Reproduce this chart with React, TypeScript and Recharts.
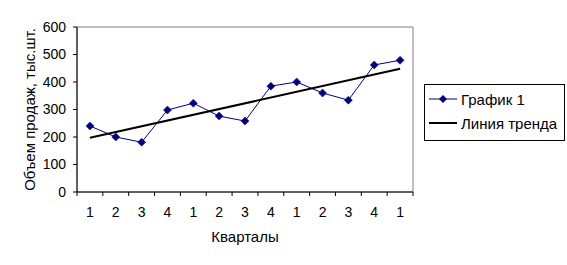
import { Legend, Line, LineChart, ReferenceArea, XAxis, YAxis } from "recharts";

const FONT = "'Liberation Sans', Arial, sans-serif";
const NAVY = "#000080";

// quarters, four per year, the last year only has Q1
const QUARTERS = ["1", "2", "3", "4", "1", "2", "3", "4", "1", "2", "3", "4", "1"];
const SALES = [240, 200, 181, 298, 323, 276, 258, 385, 400, 360, 334, 462, 479];
const TREND = [197, null, null, null, null, null, null, null, null, null, null, null, 448];
const Y_TICKS = [0, 100, 200, 300, 400, 500, 600];
// category boundaries (tick marks) and category centres (labels)
const X_TICKS = QUARTERS.flatMap((_, i) => [i, i + 0.5]).concat(QUARTERS.length);

const rows = QUARTERS.map((q, i) => ({ x: i + 0.5, q, sales: SALES[i], trend: TREND[i] }));

function QuarterTick(props: any) {
  const { x, y, payload } = props;
  const v = payload.value as number;
  if (Number.isInteger(v)) {
    return <line x1={x} y1={y} x2={x} y2={y + 4} stroke="#000" />;
  }
  return (
    <text x={x} y={y + 25} textAnchor="middle" fontSize={14} fill="#000" fontFamily={FONT}>
      {QUARTERS[Math.floor(v)]}
    </text>
  );
}

function Diamond(props: any) {
  const { cx, cy, index } = props;
  const r = 4;
  return (
    <polygon
      key={`d-${index}`}
      points={`${cx},${cy - r} ${cx + r},${cy} ${cx},${cy + r} ${cx - r},${cy}`}
      fill={NAVY}
      stroke={NAVY}
      strokeWidth={0.5}
    />
  );
}

function LegendBox(props: any) {
  const { payload = [] } = props;
  return (
    <div
      style={{
        boxSizing: "border-box",
        width: 141,
        height: 57,
        border: "1px solid #000",
        background: "#fff",
        padding: "2px 0 0 3px",
        fontFamily: FONT,
        fontSize: 15,
        color: "#000",
      }}
    >
      {payload.map((entry: any) => {
        const isTrend = entry.dataKey === "trend";
        return (
          <div key={entry.value} style={{ display: "flex", alignItems: "center", height: 24 }}>
            <svg width={33} height={12} style={{ flex: "none" }}>
              <line x1={1} y1={6} x2={29} y2={6} stroke={isTrend ? "#000" : NAVY} strokeWidth={isTrend ? 2 : 1} />
              {!isTrend && <polygon points="15,2 19,6 15,10 11,6" fill={NAVY} />}
            </svg>
            <span>{entry.value}</span>
          </div>
        );
      })}
    </div>
  );
}

export default function App() {
  return (
    <div style={{ position: "absolute", left: 0, top: 0, fontFamily: FONT, background: "#fff" }}>
      <LineChart width={567} height={265} data={rows} margin={{ top: 27, right: 154, bottom: 0, left: 20 }}>
        <ReferenceArea x1={0} x2={13} y1={0} y2={600} fill="none" stroke="#808080" ifOverflow="visible" />
        <XAxis
          dataKey="x"
          type="number"
          domain={[0, QUARTERS.length]}
          ticks={X_TICKS}
          interval={0}
          tick={<QuarterTick />}
          tickLine={false}
          tickSize={0}
          tickMargin={0}
          height={73}
          axisLine={{ stroke: "#000" }}
          label={{ value: "Кварталы", position: "insideBottom", offset: 23, style: { fill: "#000", fontSize: 15 } }}
        />
        <YAxis
          domain={[0, 600]}
          ticks={Y_TICKS}
          interval={0}
          width={57}
          tickSize={4}
          tickMargin={7}
          tick={{ fill: "#000", fontSize: 14 }}
          tickLine={{ stroke: "#000" }}
          axisLine={{ stroke: "#000" }}
          label={{
            value: "Объем продаж, тыс.шт.",
            angle: -90,
            position: "insideLeft",
            offset: 10,
            style: { textAnchor: "middle", fill: "#000", fontSize: 15 },
          }}
        />
        <Line
          dataKey="sales"
          name="График 1"
          stroke={NAVY}
          strokeWidth={1}
          dot={Diamond}
          activeDot={false}
          isAnimationActive={false}
        />
        <Line
          dataKey="trend"
          name="Линия тренда"
          stroke="#000"
          strokeWidth={2}
          dot={false}
          activeDot={false}
          connectNulls
          isAnimationActive={false}
        />
        <Legend
          layout="vertical"
          align="center"
          verticalAlign="middle"
          wrapperStyle={{ left: 424, top: 84, width: 141, height: 57 }}
          content={<LegendBox />}
        />
      </LineChart>
    </div>
  );
}
